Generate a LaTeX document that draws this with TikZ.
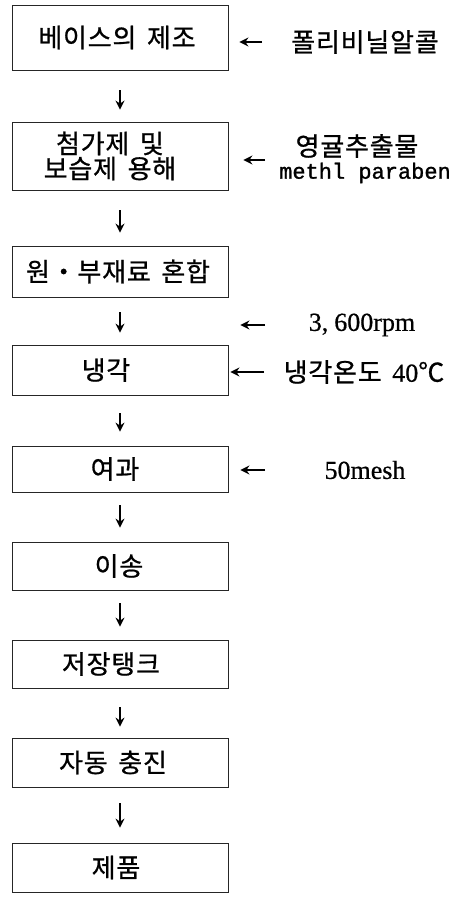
\documentclass[tikz,border=0pt]{standalone}
\usepackage{fontspec}
\usetikzlibrary{arrows.meta}
\newfontfamily\kr[LetterSpace=3,WordSpace=1.6,FakeBold=0.8]{Noto Sans CJK KR}
\newfontfamily\lserif[FakeBold=0.6]{Liberation Serif}
\newfontfamily\lmono[FakeBold=1.2]{Liberation Mono}
\tikzset{
  box/.style={draw=black!85, line width=0.8pt, minimum width=216pt, inner sep=0pt},
  ktext/.style={font=\kr\fontsize{26}{28}\selectfont, inner sep=0pt},
  side/.style={font=\kr\fontsize{26}{28}\selectfont, inner sep=0pt},
  arr/.style={line width=1.3pt, -{Stealth[length=9pt,width=9pt,inset=3pt]}},
}
\begin{document}
\begin{tikzpicture}[x=1pt,y=-1pt]
\useasboundingbox[fill=white] (0,0) rectangle (456,901);
% boxes
\node[box, minimum height=65pt, label={[ktext,xshift=-3pt]center:베이스의 제조}] (b1) at (120,37.5) {};
\node[box, minimum height=68pt, label={[ktext,xshift=-10pt,align=center,font=\kr\fontsize{26}{25}\selectfont]center:첨가제 및\\보습제 용해}] (b2) at (120,156) {};
\node[box, minimum height=51pt, label={[ktext,xshift=-2pt]center:원・부재료 혼합}] (b3) at (120,271.5) {};
\node[box, minimum height=50pt, label={[ktext,xshift=-14pt]center:냉각}] (b4) at (120,370) {};
\node[box, minimum height=46pt, label={[ktext,xshift=-5pt]center:여과}] (b5) at (120,469) {};
\node[box, minimum height=48pt, label={[ktext,xshift=-1pt]center:이송}] (b6) at (120,566) {};
\node[box, minimum height=48pt, label={[ktext,xshift=-9pt]center:저장탱크}] (b7) at (120,664) {};
\node[box, minimum height=49pt, label={[ktext,xshift=-7pt]center:자동 충진}] (b8) at (120,762.5) {};
\node[box, minimum height=49pt, label={[ktext,xshift=-4pt]center:제품}] (b9) at (120,867.5) {};
% down arrows
\draw[arr, shorten <=20pt, shorten >=12pt] (b1.south) -- (b2.north);
\draw[arr, shorten <=20pt, shorten >=13pt] (b2.south) -- (b3.north);
\draw[arr, shorten <=15pt, shorten >=12pt] (b3.south) -- (b4.north);
\draw[arr, shorten <=18pt, shorten >=14pt] (b4.south) -- (b5.north);
\draw[arr, shorten <=13pt, shorten >=14pt] (b5.south) -- (b6.north);
\draw[arr, shorten <=13pt, shorten >=13pt] (b6.south) -- (b7.north);
\draw[arr, shorten <=19pt, shorten >=11pt] (b7.south) -- (b8.north);
\draw[arr, shorten <=16pt, shorten >=15pt] (b8.south) -- (b9.north);
% side labels
\node[side] (l1) at (365,42) {폴리비닐알콜};
\node[side] (l2a) at (357,146) {영귤추출물};
\node[inner sep=0pt, font=\lmono\fontsize{22}{24}\selectfont] (l2b) at (365,173) {methl paraben};
\node[inner sep=0pt, font=\lserif\fontsize{26}{28}\selectfont] (l3) at (362,325) {3,\hspace{6pt}600rpm};
\node[side] (l4) at (364,372) {냉각온도 {\lserif 40}℃};
\node[inner sep=0pt, font=\lserif\fontsize{26}{28}\selectfont] (l5) at (365,470) {50mesh};
% side arrows
\coordinate (a1) at (262,42);
\coordinate (a2) at (265,160);
\coordinate (a3) at (265,325);
\coordinate (a4) at (264,372);
\coordinate (a5) at (265,470);
\draw[arr, shorten >=11pt] (a1) -- (b1.east |- a1);
\draw[arr, shorten >=15pt] (a2) -- (b2.east |- a2);
\draw[arr, shorten >=12pt] (a3) -- (b3.east |- a3);
\draw[arr, shorten >=2pt] (a4) -- (b4.east |- a4);
\draw[arr, shorten >=12pt] (a5) -- (b5.east |- a5);
\end{tikzpicture}
\end{document}
